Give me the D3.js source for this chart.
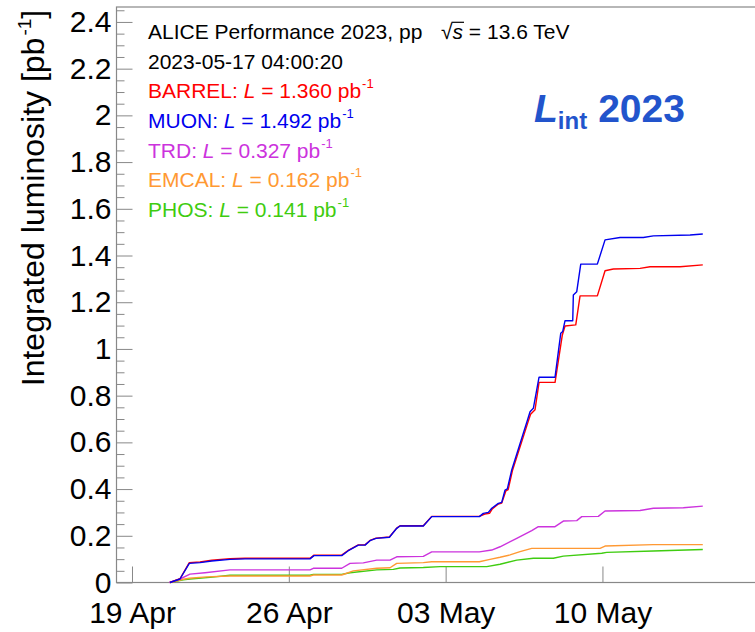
<!DOCTYPE html>
<html>
<head>
<meta charset="utf-8">
<script src="https://cdn.jsdelivr.net/npm/d3@7"></script>
<style>
  body { margin: 0; background: #fff; }
  svg { display: block; }
  text { font-family: "Liberation Sans", Arial, Helvetica, sans-serif; }
</style>
</head>
<body>
<svg id="chart" width="755" height="632"></svg>
<script>
// Integrated luminosity per detector group, ALICE pp 2023 (time, pb^-1)
const barrel = [
  ["04-20 16:40", 0], ["04-21 03:25", 0.016], ["04-21 13:24", 0.085], ["04-22 00:52", 0.088],
  ["04-22 13:24", 0.095], ["04-23 09:00", 0.102], ["04-24 01:05", 0.104], ["04-26 22:42", 0.104],
  ["04-27 03:00", 0.117], ["04-28 08:41", 0.117], ["04-28 15:45", 0.138], ["04-29 02:28", 0.161],
  ["04-29 09:39", 0.161], ["04-29 15:00", 0.180], ["04-29 21:26", 0.190], ["04-30 11:46", 0.195],
  ["04-30 19:36", 0.233], ["04-30 23:08", 0.243], ["05-02 00:06", 0.243], ["05-02 09:06", 0.283],
  ["05-04 12:06", 0.283], ["05-04 18:00", 0.293], ["05-04 23:00", 0.296], ["05-05 02:00", 0.315],
  ["05-05 08:28", 0.336], ["05-05 12:06", 0.340], ["05-05 16:30", 0.392], ["05-05 19:00", 0.398],
  ["05-05 23:30", 0.478], ["05-06 16:30", 0.690], ["05-06 19:00", 0.720], ["05-06 23:47", 0.740],
  ["05-07 04:05", 0.857], ["05-07 21:13", 0.857], ["05-08 05:02", 1.060], ["05-08 07:55", 1.098],
  ["05-08 19:24", 1.103], ["05-09 00:00", 1.227], ["05-09 18:32", 1.227], ["05-10 02:47", 1.335],
  ["05-10 11:41", 1.342], ["05-11 16:18", 1.345], ["05-12 03:00", 1.352], ["05-13 11:08", 1.352],
  ["05-14 11:30", 1.360]
];
const muon = [
  ["04-20 16:40", 0], ["04-21 03:25", 0.015], ["04-21 13:24", 0.082], ["04-22 00:52", 0.085],
  ["04-22 13:24", 0.092], ["04-23 09:00", 0.099], ["04-24 01:05", 0.101], ["04-26 22:42", 0.101],
  ["04-27 03:00", 0.115], ["04-28 08:41", 0.115], ["04-28 15:45", 0.136], ["04-29 02:28", 0.160],
  ["04-29 09:39", 0.160], ["04-29 15:00", 0.179], ["04-29 21:26", 0.189], ["04-30 11:46", 0.194],
  ["04-30 19:36", 0.232], ["04-30 23:08", 0.242], ["05-02 00:06", 0.242], ["05-02 09:06", 0.282],
  ["05-04 12:06", 0.282], ["05-04 16:23", 0.296], ["05-04 21:45", 0.300], ["05-05 01:24", 0.318],
  ["05-05 08:28", 0.339], ["05-05 12:06", 0.343], ["05-05 15:39", 0.396], ["05-05 18:06", 0.401],
  ["05-05 22:49", 0.482], ["05-06 15:58", 0.699], ["05-06 18:26", 0.731], ["05-06 21:58", 0.746],
  ["05-07 04:05", 0.879], ["05-07 21:13", 0.879], ["05-08 03:19", 1.067], ["05-08 05:28", 1.075],
  ["05-08 07:55", 1.121], ["05-08 16:10", 1.121], ["05-08 16:49", 1.231], ["05-08 20:28", 1.245],
  ["05-09 00:45", 1.363], ["05-09 18:32", 1.363], ["05-10 02:47", 1.467], ["05-10 18:52", 1.477],
  ["05-11 19:49", 1.477], ["05-12 06:32", 1.484], ["05-13 21:52", 1.488], ["05-14 11:30", 1.492]
];
const trd = [
  ["04-20 16:00", 0], ["04-21 03:25", 0.015], ["04-21 14:08", 0.036], ["04-22 06:13", 0.042],
  ["04-23 09:00", 0.054], ["04-26 22:42", 0.054], ["04-27 02:15", 0.061], ["04-28 08:41", 0.061],
  ["04-28 17:34", 0.082], ["04-29 07:49", 0.084], ["04-29 22:10", 0.096], ["04-30 12:26", 0.096],
  ["04-30 19:36", 0.110], ["05-02 00:06", 0.112], ["05-02 09:06", 0.131], ["05-04 12:06", 0.131],
  ["05-05 01:24", 0.139], ["05-05 10:18", 0.153], ["05-06 04:11", 0.189], ["05-06 20:15", 0.222],
  ["05-07 03:19", 0.239], ["05-07 21:13", 0.239], ["05-08 06:06", 0.263], ["05-08 20:28", 0.265],
  ["05-09 01:49", 0.282], ["05-09 19:36", 0.283], ["05-10 02:47", 0.306], ["05-11 16:18", 0.308],
  ["05-12 06:32", 0.318], ["05-13 14:41", 0.320], ["05-14 11:30", 0.327]
];
const emcal = [
  ["04-20 16:40", 0], ["04-21 07:00", 0.014], ["04-21 13:24", 0.018], ["04-22 08:02", 0.024],
  ["04-23 09:00", 0.028], ["04-26 22:42", 0.028], ["04-27 02:15", 0.032], ["04-28 08:41", 0.032],
  ["04-28 21:06", 0.050], ["04-29 22:10", 0.061], ["04-30 12:26", 0.063], ["04-30 19:36", 0.082],
  ["05-02 00:06", 0.085], ["05-02 09:06", 0.089], ["05-04 12:06", 0.089], ["05-04 23:34", 0.099],
  ["05-05 10:18", 0.108], ["05-05 21:00", 0.118], ["05-06 07:42", 0.132], ["05-06 20:15", 0.146],
  ["05-09 21:26", 0.146], ["05-10 02:47", 0.156], ["05-12 06:32", 0.162], ["05-14 11:30", 0.162]
];
const phos = [
  ["04-20 16:40", 0], ["04-21 07:00", 0.011], ["04-21 14:08", 0.015], ["04-22 11:34", 0.022],
  ["04-23 09:00", 0.031], ["04-26 22:42", 0.031], ["04-27 02:15", 0.035], ["04-28 08:41", 0.035],
  ["04-28 17:34", 0.042], ["04-29 22:10", 0.054], ["04-30 15:58", 0.056], ["04-30 23:08", 0.062],
  ["05-02 00:06", 0.064], ["05-02 18:00", 0.068], ["05-04 20:02", 0.068], ["05-05 10:18", 0.078],
  ["05-06 04:11", 0.096], ["05-06 21:58", 0.104], ["05-07 19:24", 0.104], ["05-08 06:06", 0.113],
  ["05-09 23:15", 0.125], ["05-10 04:36", 0.129], ["05-12 06:32", 0.135], ["05-14 11:30", 0.141]
];

const seriesNames  = ["PHOS", "EMCAL", "TRD", "BARREL", "MUON"];
const seriesTotals = [0.141, 0.162, 0.327, 1.360, 1.492];
const seriesColors = ["#3fcc10", "#ff9933", "#cc33dd", "#ff0000", "#0000ee"];
const seriesData   = [phos, emcal, trd, barrel, muon];

const yTickValues = [0, 0.2, 0.4, 0.6, 0.8, 1, 1.2, 1.4, 1.6, 1.8, 2, 2.2, 2.4];
const xTickDates  = ["2023-04-19 00:00", "2023-04-26 00:00", "2023-05-03 00:00", "2023-05-10 00:00"];
const headerLines = ["ALICE Performance 2023, pp", "2023-05-17 04:00:20"];

const parse = d3.timeParse("%Y-%m-%d %H:%M");
const svg = d3.select("#chart");

const frame = { left: 116.5, top: 7, right: 763, bottom: 582.5 };

const x = d3.scaleTime()
  .domain([parse("2023-04-18 07:24"), parse("2023-05-17 04:00")])
  .range([frame.left, frame.right]);
const y = d3.scaleLinear()
  .domain([0, 2.464])
  .range([frame.bottom, frame.top]);

const axisColor = "#888";

// frame
svg.append("rect")
  .attr("x", frame.left).attr("y", frame.top)
  .attr("width", frame.right - frame.left).attr("height", frame.bottom - frame.top)
  .attr("fill", "none").attr("stroke", axisColor).attr("stroke-width", 1.2);

// y axis: major + minor ticks pointing inward
const yMinor = d3.range(0, 2.4501, 0.05).filter(v => Math.abs(v / 0.2 - Math.round(v / 0.2)) > 1e-6);
const yAxisMinor = svg.append("g")
  .attr("transform", `translate(${frame.left},0)`)
  .call(d3.axisLeft(y).tickValues(yMinor).tickSizeInner(-8).tickSizeOuter(0).tickFormat(""));
yAxisMinor.select(".domain").remove();
yAxisMinor.selectAll("line").attr("stroke", axisColor);

const yAxis = svg.append("g")
  .attr("transform", `translate(${frame.left},0)`)
  .call(d3.axisLeft(y).tickValues(yTickValues).tickSizeInner(-16).tickSizeOuter(0)
    .tickPadding(5).tickFormat(d => d3.format("")(+d.toFixed(1))));
yAxis.select(".domain").remove();
yAxis.selectAll("line").attr("stroke", axisColor);
yAxis.selectAll("text")
  .attr("font-size", 30).attr("fill", "#000")
  .attr("font-family", "'Liberation Sans', Arial, sans-serif");

// x axis: weekly ticks
const xAxis = svg.append("g")
  .attr("transform", `translate(0,${frame.bottom})`)
  .call(d3.axisBottom(x).tickValues(xTickDates.map(parse)).tickSizeInner(-16).tickSizeOuter(0)
    .tickPadding(19).tickFormat(d3.timeFormat("%d %b")));
xAxis.select(".domain").remove();
xAxis.selectAll("line").attr("stroke", axisColor);
xAxis.selectAll("text")
  .attr("font-size", 30).attr("fill", "#000")
  .attr("font-family", "'Liberation Sans', Arial, sans-serif");

// y axis title
const yTitle = svg.append("text")
  .attr("transform", "translate(44,198) rotate(-90)")
  .attr("text-anchor", "middle")
  .attr("font-size", 32).attr("fill", "#000");
yTitle.append("tspan").text("Integrated luminosity [pb");
yTitle.append("tspan").attr("font-size", 19).attr("dy", -13).attr("dx", 2).text("-1");
yTitle.append("tspan").attr("dy", 13).text("]");

// curves
const line = d3.line()
  .x(d => x(parse("2023-" + d[0])))
  .y(d => y(d[1]));
svg.append("g").selectAll("path")
  .data(seriesData)
  .join("path")
  .attr("d", d => line(d))
  .attr("fill", "none")
  .attr("stroke", (d, i) => seriesColors[i])
  .attr("stroke-width", 1.4)
  .attr("stroke-linejoin", "round");

// header text
const legendX = 148, legendY0 = 39.3, legendDY = 29.57, legendFont = 21;
headerLines.forEach((t, i) => {
  svg.append("text").attr("x", legendX).attr("y", legendY0 + i * legendDY)
    .attr("font-size", legendFont).attr("fill", "#000").text(t);
});

// sqrt(s) = 13.6 TeV
const energy = svg.append("text").attr("x", 441).attr("y", legendY0)
  .attr("font-size", legendFont).attr("fill", "#000");
const rad = energy.append("tspan").text("\u221A");
const sVar = energy.append("tspan").attr("font-style", "italic").text("s");
energy.append("tspan").text(" = 13.6 TeV");
const radW = rad.node().getComputedTextLength();
const sW = sVar.node().getComputedTextLength();
svg.append("line")
  .attr("x1", 441 + radW - 1).attr("x2", 441 + radW + sW + 1)
  .attr("y1", legendY0 - 17).attr("y2", legendY0 - 17)
  .attr("stroke", "#000").attr("stroke-width", 1.2);

// per-detector legend lines (top to bottom: BARREL, MUON, TRD, EMCAL, PHOS)
const legendOrder = ["BARREL", "MUON", "TRD", "EMCAL", "PHOS"];
legendOrder.forEach((name, j) => {
  const i = seriesNames.indexOf(name);
  const t = svg.append("text").attr("x", legendX).attr("y", legendY0 + (j + 2) * legendDY)
    .attr("font-size", legendFont).attr("fill", seriesColors[i]);
  t.append("tspan").text(name + ": ");
  t.append("tspan").attr("font-style", "italic").text("L");
  t.append("tspan").text(" = " + seriesTotals[i].toFixed(3) + " pb");
  t.append("tspan").attr("font-size", 13).attr("dy", -10).attr("dx", 1).text("-1");
});

// big L_int 2023 label
const big = svg.append("text").attr("x", 534).attr("y", 122)
  .attr("font-family", "'Open Sans', Lato, sans-serif")
  .attr("font-weight", 700).attr("font-size", 39).attr("fill", "#2254cc");
big.append("tspan").attr("font-style", "italic").text("L");
big.append("tspan").attr("font-size", 24).attr("dy", 7).attr("dx", 0).text("int");
big.append("tspan").attr("dy", -7).attr("dx", 11).text("2023");
</script>
</body>
</html>
